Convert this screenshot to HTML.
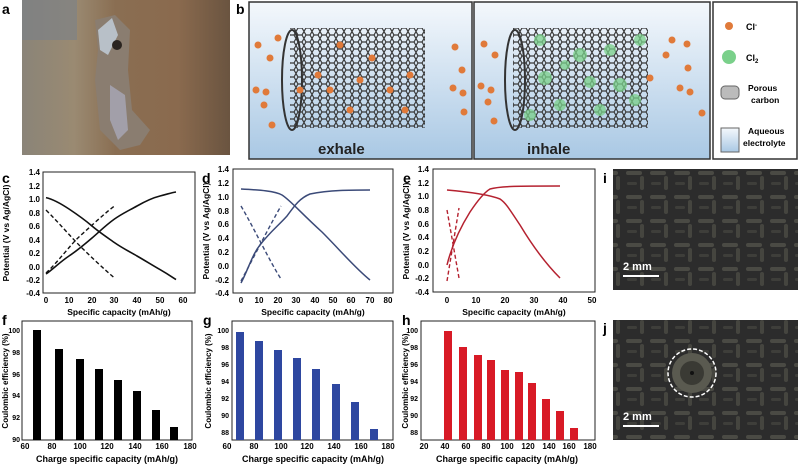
<!DOCTYPE html>
<html><head><meta charset="utf-8"><style>
body{margin:0;background:#fff}
svg{display:block}
text{font-family:"Liberation Sans",sans-serif;font-weight:bold}
</style></head><body>
<svg width="798" height="466" viewBox="0 0 798 466" xmlns="http://www.w3.org/2000/svg">
<defs>
<linearGradient id="bg" x1="0" y1="0" x2="0" y2="1"><stop offset="0" stop-color="#f4f8fc"/><stop offset="1" stop-color="#a9c8e4"/></linearGradient>
<linearGradient id="ph" x1="0" y1="0" x2="1" y2="0"><stop offset="0" stop-color="#8a8478"/><stop offset="0.25" stop-color="#9a8a72"/><stop offset="0.45" stop-color="#8a6e52"/><stop offset="0.75" stop-color="#8a6a4e"/><stop offset="1" stop-color="#6a5440"/></linearGradient>
<pattern id="hex" width="8" height="7" patternUnits="userSpaceOnUse"><path d="M0 3.5 L2 0 L6 0 L8 3.5 L6 7 L2 7 Z" fill="none" stroke="#3a3a3a" stroke-width="1.2"/></pattern>
<pattern id="tex" width="24" height="24" patternUnits="userSpaceOnUse"><rect width="24" height="24" fill="#2c2c2c"/><rect x="2" y="3" width="16" height="4" rx="2" fill="#4a4a44"/><rect x="16" y="8" width="4" height="14" rx="2" fill="#45453f"/><rect x="3" y="14" width="10" height="3" rx="1.5" fill="#3e3e3a"/></pattern>
</defs>
<!-- a -->
<text x="2" y="14" font-size="14">a</text>
<rect x="22" y="0" width="208" height="155" fill="url(#ph)"/>
<rect x="22" y="0" width="55" height="40" fill="#7a8088" opacity="0.6"/>
<path d="M95 20 L115 15 L130 30 L128 70 L132 110 L150 130 L140 145 L120 150 L100 130 L95 80 L98 50 Z" fill="#8a7d70"/>
<path d="M98 30 L112 18 L118 35 L108 55 L100 50 Z" fill="#b8c0c8"/>
<path d="M110 85 L125 95 L128 130 L118 140 L110 120 Z" fill="#a8a8b8" opacity="0.8"/>
<circle cx="117" cy="45" r="5" fill="#2a2420"/>
<!-- b -->
<text x="236" y="14" font-size="14">b</text>
<rect x="249" y="2" width="223" height="157" fill="url(#bg)" stroke="#333" stroke-width="1.5"/>
<rect x="474" y="2" width="236" height="157" fill="url(#bg)" stroke="#333" stroke-width="1.5"/>
<rect x="713" y="2" width="84" height="157" fill="#fff" stroke="#333" stroke-width="1.5"/>
<rect x="290" y="28" width="135" height="100" fill="url(#hex)"/>
<ellipse cx="292" cy="80" rx="10" ry="50" fill="none" stroke="#333" stroke-width="2"/>
<rect x="513" y="28" width="135" height="100" fill="url(#hex)"/>
<ellipse cx="515" cy="80" rx="10" ry="50" fill="none" stroke="#333" stroke-width="2"/>
<g fill="#e07a3a">
<circle cx="258" cy="45" r="3.5"/><circle cx="270" cy="58" r="3.5"/><circle cx="278" cy="38" r="3.5"/><circle cx="256" cy="90" r="3.5"/><circle cx="266" cy="92" r="3.5"/><circle cx="264" cy="105" r="3.5"/><circle cx="272" cy="125" r="3.5"/><circle cx="318" cy="75" r="3.5"/><circle cx="350" cy="110" r="3.5"/><circle cx="372" cy="58" r="3.5"/><circle cx="390" cy="90" r="3.5"/><circle cx="340" cy="45" r="3.5"/><circle cx="300" cy="90" r="3.5"/><circle cx="410" cy="75" r="3.5"/><circle cx="405" cy="110" r="3.5"/><circle cx="455" cy="47" r="3.5"/><circle cx="462" cy="70" r="3.5"/><circle cx="453" cy="88" r="3.5"/><circle cx="463" cy="93" r="3.5"/><circle cx="464" cy="112" r="3.5"/><circle cx="330" cy="90" r="3.5"/><circle cx="360" cy="80" r="3.5"/>
<circle cx="484" cy="44" r="3.5"/><circle cx="495" cy="55" r="3.5"/><circle cx="481" cy="86" r="3.5"/><circle cx="491" cy="90" r="3.5"/><circle cx="488" cy="102" r="3.5"/><circle cx="494" cy="121" r="3.5"/><circle cx="672" cy="40" r="3.5"/><circle cx="687" cy="44" r="3.5"/><circle cx="688" cy="68" r="3.5"/><circle cx="680" cy="88" r="3.5"/><circle cx="690" cy="92" r="3.5"/><circle cx="702" cy="113" r="3.5"/><circle cx="666" cy="55" r="3.5"/><circle cx="650" cy="78" r="3.5"/>
</g>
<g fill="#7ad08a" opacity="0.75">
<circle cx="540" cy="40" r="6"/><circle cx="580" cy="55" r="7"/><circle cx="610" cy="50" r="6"/><circle cx="545" cy="78" r="7"/><circle cx="590" cy="82" r="6"/><circle cx="620" cy="85" r="7"/><circle cx="560" cy="105" r="6"/><circle cx="600" cy="110" r="6"/><circle cx="530" cy="115" r="6"/><circle cx="640" cy="40" r="6"/><circle cx="635" cy="100" r="6"/><circle cx="565" cy="65" r="5"/>
</g>
<text x="318" y="154" font-size="15" fill="#222">exhale</text>
<text x="527" y="154" font-size="15" fill="#222">inhale</text>
<circle cx="729" cy="26" r="4" fill="#e07a3a"/><text x="746" y="30" font-size="9">Cl<tspan font-size="6" dy="-3">-</tspan></text>
<circle cx="729" cy="57" r="7" fill="#7ad08a"/><text x="746" y="61" font-size="9">Cl<tspan font-size="6" dy="2">2</tspan></text>
<rect x="721" y="86" width="18" height="13" rx="4" fill="#bbb" stroke="#666"/><text x="748" y="91" font-size="8.5">Porous</text><text x="751" y="103" font-size="8.5">carbon</text>
<rect x="721" y="128" width="18" height="24" fill="url(#bg)" stroke="#666"/><text x="748" y="134" font-size="8.5">Aqueous</text><text x="743" y="146" font-size="8.5">electrolyte</text>
<g font-size="8">
<!-- c -->
<text x="2" y="183" font-size="14">c</text>
<rect x="43" y="172" width="152" height="121" fill="none" stroke="#222" stroke-width="1"/>
<g text-anchor="end"><text x="40" y="175">1.4</text><text x="40" y="189">1.2</text><text x="40" y="202">1.0</text><text x="40" y="216">0.8</text><text x="40" y="229">0.6</text><text x="40" y="243">0.4</text><text x="40" y="256">0.2</text><text x="40" y="270">0.0</text><text x="40" y="283">-0.2</text><text x="40" y="296">-0.4</text></g>
<g text-anchor="middle"><text x="46" y="303">0</text><text x="69" y="303">10</text><text x="92" y="303">20</text><text x="114" y="303">30</text><text x="137" y="303">40</text><text x="160" y="303">50</text><text x="183" y="303">60</text></g>
<text x="119" y="315" text-anchor="middle" font-size="8.5">Specific capacity (mAh/g)</text>
<text transform="translate(9,233) rotate(-90)" text-anchor="middle" font-size="8.5">Potential (V vs Ag/AgCl)</text>
<g fill="none" stroke="#111" stroke-width="1.6">
<path d="M46 197.6 C52 199,60 203,69 209 S85 220,92 226 S108 238,114.5 242.6 S130 252,137 256 S152 265,160 269.6 S172 277,176 279.6"/>
<path d="M46 274 C52 270,60 262,69 256 S85 244,92 238 S106 225,114.5 219 S130 210,137 206 S152 198,160 196 S172 192.5,176 192"/>
</g>
<g fill="none" stroke="#111" stroke-width="1.4" stroke-dasharray="4,2.5">
<path d="M46 210 C60 224,70 236,80 246 S105 270,114.5 278"/>
<path d="M46 273 C58 262,70 245,80 236 S105 213,114.5 206"/>
</g>
<!-- d -->
<text x="202" y="183" font-size="14">d</text>
<rect x="233" y="169" width="160" height="124" fill="none" stroke="#222" stroke-width="1"/>
<g text-anchor="end"><text x="229" y="172">1.4</text><text x="229" y="186">1.2</text><text x="229" y="200">1.0</text><text x="229" y="214">0.8</text><text x="229" y="227">0.6</text><text x="229" y="241">0.4</text><text x="229" y="255">0.2</text><text x="229" y="269">0.0</text><text x="229" y="283">-0.2</text><text x="229" y="296">-0.4</text></g>
<g text-anchor="middle"><text x="241" y="303">0</text><text x="259" y="303">10</text><text x="278" y="303">20</text><text x="296" y="303">30</text><text x="315" y="303">40</text><text x="333" y="303">50</text><text x="351" y="303">60</text><text x="370" y="303">70</text><text x="388" y="303">80</text></g>
<text x="313" y="315" text-anchor="middle" font-size="8.5">Specific capacity (mAh/g)</text>
<text transform="translate(209,231) rotate(-90)" text-anchor="middle" font-size="8.5">Potential (V vs Ag/AgCl)</text>
<g fill="none" stroke="#3b4a78" stroke-width="1.5">
<path d="M241 189 C260 190,275 191,282 195 C290 200,300 212,322 232 C340 250,355 268,370 280"/>
<path d="M241 283 C248 270,252 255,260 245 C270 232,278 226,287 216 C295 205,300 198,310 194 C330 190,350 190,370 190"/>
</g>
<g fill="none" stroke="#3b4a78" stroke-width="1.4" stroke-dasharray="4,2.5">
<path d="M241 206 C255 230,270 262,281 279"/>
<path d="M241 281 C255 255,270 225,281 206"/>
</g>
<!-- e -->
<text x="403" y="183" font-size="14">e</text>
<rect x="433" y="169" width="162" height="123" fill="none" stroke="#222" stroke-width="1"/>
<g text-anchor="end"><text x="429" y="172">1.4</text><text x="429" y="186">1.2</text><text x="429" y="199">1.0</text><text x="429" y="213">0.8</text><text x="429" y="227">0.6</text><text x="429" y="240">0.4</text><text x="429" y="254">0.2</text><text x="429" y="268">0.0</text><text x="429" y="281">-0.2</text><text x="429" y="295">-0.4</text></g>
<g text-anchor="middle"><text x="447" y="303">0</text><text x="476" y="303">10</text><text x="505" y="303">20</text><text x="534" y="303">30</text><text x="563" y="303">40</text><text x="592" y="303">50</text></g>
<text x="514" y="315" text-anchor="middle" font-size="8.5">Specific capacity (mAh/g)</text>
<text transform="translate(409,231) rotate(-90)" text-anchor="middle" font-size="8.5">Potential (V vs Ag/AgCl)</text>
<g fill="none" stroke="#b52230" stroke-width="1.5">
<path d="M447 190 C470 192,490 195,500 199 C506 203,510 210,520 225 C535 250,550 268,560 278"/>
<path d="M447 265 C452 245,460 228,470 212 C478 200,485 192,490 189 C500 186,520 186,560 186"/>
</g>
<g fill="none" stroke="#b52230" stroke-width="1.4" stroke-dasharray="4,2.5">
<path d="M447 210 L459 278"/>
<path d="M447 281 L459 208"/>
</g>
<!-- i -->
<text x="603" y="183" font-size="14">i</text>
<rect x="613" y="169" width="185" height="121" fill="url(#tex)"/>
<text x="623" y="270" font-size="11" fill="#fff">2 mm</text>
<rect x="623" y="275" width="36" height="2" fill="#fff"/>
<!-- f -->
<text x="2" y="325" font-size="14">f</text>
<rect x="22" y="321" width="170" height="119" fill="none" stroke="#222" stroke-width="1"/>
<g text-anchor="end" font-size="7"><text x="20" y="333">100</text><text x="20" y="355">98</text><text x="20" y="377">96</text><text x="20" y="398">94</text><text x="20" y="420">92</text><text x="20" y="442">90</text></g>
<g text-anchor="middle"><text x="25" y="449">60</text><text x="52" y="449">80</text><text x="80" y="449">100</text><text x="107" y="449">120</text><text x="135" y="449">140</text><text x="162" y="449">160</text><text x="190" y="449">180</text></g>
<text x="107" y="462" text-anchor="middle" font-size="9">Charge specific capacity (mAh/g)</text>
<text transform="translate(8,381) rotate(-90)" text-anchor="middle" font-size="8">Coulombic efficiency (%)</text>
<!-- g -->
<text x="203" y="325" font-size="14">g</text>
<rect x="232" y="321" width="161" height="119" fill="none" stroke="#222" stroke-width="1"/>
<g text-anchor="end" font-size="7"><text x="229" y="333">100</text><text x="229" y="350">98</text><text x="229" y="367">96</text><text x="229" y="384">94</text><text x="229" y="401">92</text><text x="229" y="418">90</text><text x="229" y="435">88</text></g>
<g text-anchor="middle"><text x="227" y="449">60</text><text x="254" y="449">80</text><text x="281" y="449">100</text><text x="307" y="449">120</text><text x="334" y="449">140</text><text x="361" y="449">160</text><text x="388" y="449">180</text></g>
<text x="313" y="462" text-anchor="middle" font-size="9">Charge specific capacity (mAh/g)</text>
<text transform="translate(211,381) rotate(-90)" text-anchor="middle" font-size="8">Coulombic efficiency (%)</text>
<!-- h -->
<text x="402" y="325" font-size="14">h</text>
<rect x="421" y="321" width="174" height="119" fill="none" stroke="#222" stroke-width="1"/>
<g text-anchor="end" font-size="7"><text x="418" y="333">100</text><text x="418" y="350">98</text><text x="418" y="367">96</text><text x="418" y="384">94</text><text x="418" y="401">92</text><text x="418" y="418">90</text><text x="418" y="435">88</text></g>
<g text-anchor="middle"><text x="424" y="449">20</text><text x="445" y="449">40</text><text x="466" y="449">60</text><text x="486" y="449">80</text><text x="507" y="449">100</text><text x="528" y="449">120</text><text x="549" y="449">140</text><text x="569" y="449">160</text><text x="590" y="449">180</text></g>
<text x="507" y="462" text-anchor="middle" font-size="9">Charge specific capacity (mAh/g)</text>
<text transform="translate(408,381) rotate(-90)" text-anchor="middle" font-size="8">Coulombic efficiency (%)</text>
</g>
<g fill="#000">
<rect x="33" y="330" width="8" height="110"/><rect x="55" y="349" width="8" height="91"/><rect x="76" y="359" width="8" height="81"/><rect x="95" y="369" width="8" height="71"/><rect x="114" y="380" width="8" height="60"/><rect x="133" y="391" width="8" height="49"/><rect x="152" y="410" width="8" height="30"/><rect x="170" y="427" width="8" height="13"/>
</g>
<g fill="#2e47a0">
<rect x="236" y="332" width="8" height="108"/><rect x="255" y="341" width="8" height="99"/><rect x="274" y="350" width="8" height="90"/><rect x="293" y="358" width="8" height="82"/><rect x="312" y="369" width="8" height="71"/><rect x="332" y="384" width="8" height="56"/><rect x="351" y="402" width="8" height="38"/><rect x="370" y="429" width="8" height="11"/>
</g>
<g fill="#d81a26">
<rect x="444" y="331" width="8" height="109"/><rect x="459" y="347" width="8" height="93"/><rect x="474" y="355" width="8" height="85"/><rect x="487" y="360" width="8" height="80"/><rect x="501" y="370" width="8" height="70"/><rect x="515" y="372" width="8" height="68"/><rect x="528" y="383" width="8" height="57"/><rect x="542" y="399" width="8" height="41"/><rect x="556" y="411" width="8" height="29"/><rect x="570" y="428" width="8" height="12"/>
</g>
<!-- j -->
<text x="603" y="333" font-size="14">j</text>
<rect x="613" y="320" width="185" height="120" fill="url(#tex)"/>
<circle cx="692" cy="373" r="20" fill="#5a5a50"/>
<circle cx="692" cy="373" r="12" fill="#3a3a34"/>
<circle cx="692" cy="373" r="2" fill="#111"/>
<circle cx="692" cy="373" r="24" fill="none" stroke="#fff" stroke-width="1.5" stroke-dasharray="4,2"/>
<text x="623" y="420" font-size="11" fill="#fff">2 mm</text>
<rect x="623" y="425" width="36" height="2" fill="#fff"/>
</svg>
</body></html>
